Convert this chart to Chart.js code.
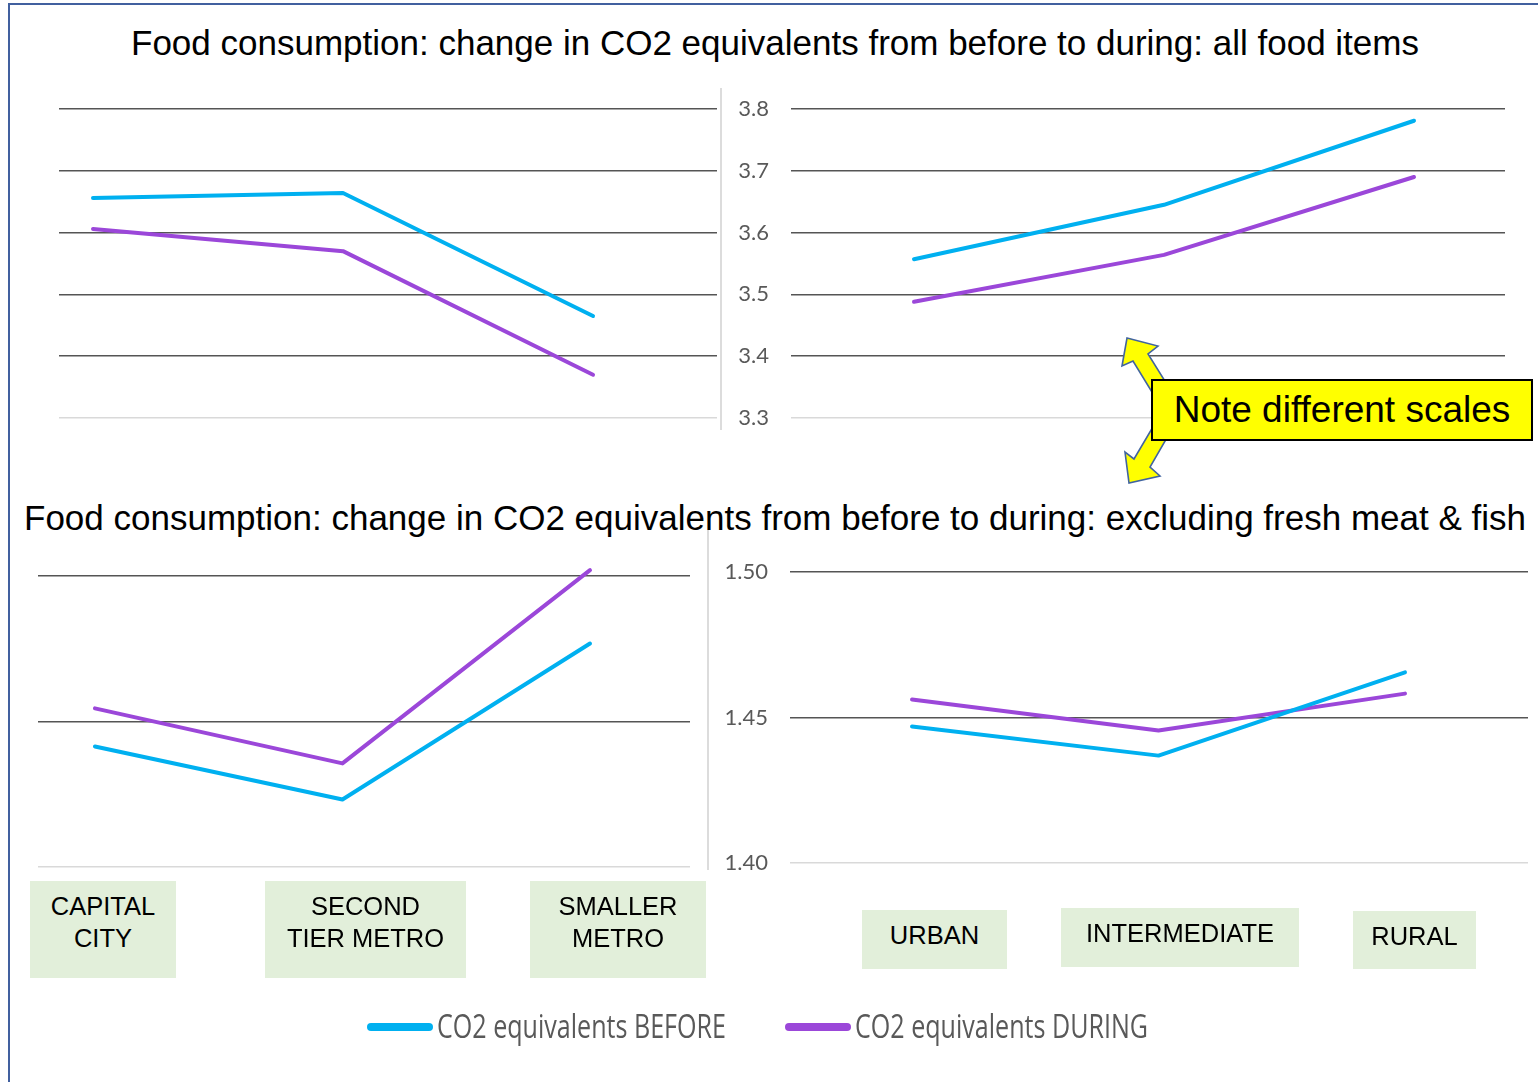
<!DOCTYPE html>
<html>
<head>
<meta charset="utf-8">
<script src="https://cdn.jsdelivr.net/npm/chart.js@4/dist/chart.umd.min.js"></script>
<style>
  html, body { margin: 0; padding: 0; background: #fff; }
  body { width: 1538px; height: 1082px; position: relative; overflow: hidden;
         font-family: "Liberation Sans", Arial, sans-serif; }
  .frame { position: absolute; left: 8px; top: 3px; right: -4px; bottom: -4px;
           border-top: 2px solid #41609f; border-left: 2px solid #41609f; }
  .title { position: absolute; left: 0; width: 1550px; text-align: center; font-size: 35px;
           line-height: 36px; color: #000; white-space: nowrap; }
  .panel { position: absolute; }
  .sep { position: absolute; width: 1.5px; background: #dcdcdc; }
  .cat { position: absolute; background: #e2efda; box-sizing: border-box; padding-top: 9px;
         text-align: center; font-size: 25.5px; line-height: 32px; color: #000; }
  .note { position: absolute; left: 1151px; top: 379px; width: 382px; height: 62px; box-sizing: border-box;
          border: 2px solid #000; background: #ffff00; display: flex; align-items: center;
          justify-content: center; font-size: 37px; color: #000; }
  .arrow { position: absolute; left: 0; top: 0; }
  .legend-item { position: absolute; top: 1005px; height: 42px; }
  .legend-item .swatch { position: absolute; left: 0; top: 18px; width: 66px; height: 8px; border-radius: 4px; }
  .legend-item .label { position: absolute; left: 70px; top: 0; font-family: "Open Sans", sans-serif;
          font-size: 33px; line-height: 42px; color: #595959; white-space: nowrap;
          transform: scaleX(0.76); transform-origin: 0 50%; }
</style>
</head>
<body>
<div class="frame"></div>

<div class="title" style="top:25px">Food consumption: change in CO2 equivalents from before to during: all food items</div>
<div class="title" style="top:500px">Food consumption: change in CO2 equivalents from before to during: excluding fresh meat &amp; fish</div>

<div class="sep" style="left:720px; top:88px; height:342px"></div>
<div class="sep" style="left:707px; top:530px; height:340px"></div>

<div class="panel" style="left:40px; top:90px"><canvas id="allCity" width="690" height="360"></canvas></div>
<div class="panel" style="left:721px; top:90px"><canvas id="allArea" width="800" height="360"></canvas></div>
<div class="panel" style="left:20px; top:550px"><canvas id="exCity" width="690" height="340"></canvas></div>
<div class="panel" style="left:708px; top:550px"><canvas id="exArea" width="830" height="340"></canvas></div>

<svg class="arrow" width="1538" height="1082">
  <polygon points="1127,338 1158,346 1148,354 1183,410 1150,467 1160,476 1129,483 1125,452 1134,459 1163,410 1133,361 1122,366"
           fill="#ffff00" stroke="#41649f" stroke-width="1.6" stroke-linejoin="miter"/>
</svg>
<div class="note">Note different scales</div>

<div id="cats"></div>
<div id="legend"></div>

<script>
// Category names
const cityTypes = ["CAPITAL\nCITY", "SECOND\nTIER METRO", "SMALLER\nMETRO"];
const areaTypes = ["URBAN", "INTERMEDIATE", "RURAL"];

// Series names and colours
const seriesNames = ["CO2 equivalents BEFORE", "CO2 equivalents DURING"];
const seriesColors = ["#00b0f0", "#9b47d9"];

// All food items, by city type
const allCityBefore = [3.656, 3.664, 3.465];
const allCityDuring = [3.606, 3.570, 3.370];
// All food items, by area type
const allAreaBefore = [3.557, 3.645, 3.781];
const allAreaDuring = [3.488, 3.564, 3.690];
// Excluding fresh meat & fish, by city type
const exCityBefore = [1.4414, 1.4232, 1.4768];
const exCityDuring = [1.4545, 1.4356, 1.5020];
// Excluding fresh meat & fish, by area type
const exAreaBefore = [1.4469, 1.4369, 1.4655];
const exAreaDuring = [1.4562, 1.4455, 1.4582];

// Value axis ticks
const allTicks = [3.3, 3.4, 3.5, 3.6, 3.7, 3.8];
const exTicks = [1.40, 1.45, 1.50];

function toPoints(values) {
  return values.map((v, i) => ({ x: i, y: v }));
}

function makePanel(id, opt) {
  const ticks = opt.ticks;
  const yMin = ticks[0], yMax = ticks[ticks.length - 1];
  new Chart(document.getElementById(id), {
    type: 'line',
    data: {
      datasets: [opt.before, opt.during].map((vals, k) => ({
        label: seriesNames[k],
        data: toPoints(vals),
        borderColor: seriesColors[k],
        backgroundColor: seriesColors[k],
        borderWidth: 4,
        borderCapStyle: 'round',
        borderJoinStyle: 'round',
        pointRadius: 0,
        tension: 0,
        clip: false
      }))
    },
    options: {
      responsive: false,
      animation: false,
      layout: { padding: opt.padding },
      plugins: { legend: { display: false }, tooltip: { enabled: false }, title: { display: false } },
      scales: {
        x: { type: 'linear', display: false, min: opt.xMin, max: opt.xMax },
        y: {
          min: yMin, max: yMax,
          afterBuildTicks: s => { s.ticks = ticks.map(v => ({ value: v })); },
          // fixed axis width; tick labels may overhang the plot edges
          afterFit: s => { s.width = opt.axisWidth; s.paddingTop = 0; s.paddingBottom = 0; },
          border: { display: false },
          grid: {
            drawTicks: false,
            lineWidth: 1.5,
            color: c => (c.tick && Math.abs(c.tick.value - yMin) < 1e-9) ? '#d9d9d9' : '#555555'
          },
          ticks: {
            display: opt.showTicks,
            padding: 22,
            color: '#595959',
            font: { family: 'Lato', size: 22 },
            callback: v => Number(v).toFixed(opt.decimals)
          }
        }
      }
    }
  });
}

makePanel('allCity', { before: allCityBefore, during: allCityDuring, ticks: allTicks, decimals: 1,
  showTicks: false, axisWidth: 19, padding: { left: 0, top: 19, right: 13, bottom: 32 },
  xMin: -0.136, xMax: 2.496 });
makePanel('allArea', { before: allAreaBefore, during: allAreaDuring, ticks: allTicks, decimals: 1,
  showTicks: true, axisWidth: 70, padding: { left: 0, top: 19, right: 16, bottom: 32 },
  xMin: -0.492, xMax: 2.364 });
makePanel('exCity', { before: exCityBefore, during: exCityDuring, ticks: exTicks, decimals: 2,
  showTicks: false, axisWidth: 18, padding: { left: 0, top: 26, right: 20, bottom: 23 },
  xMin: -0.230, xMax: 2.404 });
makePanel('exArea', { before: exAreaBefore, during: exAreaDuring, ticks: exTicks, decimals: 2,
  showTicks: true, axisWidth: 82, padding: { left: 0, top: 22, right: 10, bottom: 27 },
  xMin: -0.495, xMax: 2.499 });

// Category label boxes under the lower panels
const catBoxes = [
  { text: cityTypes[0], l: 30,   t: 881, w: 146, h: 97 },
  { text: cityTypes[1], l: 265,  t: 881, w: 201, h: 97 },
  { text: cityTypes[2], l: 530,  t: 881, w: 176, h: 97 },
  { text: areaTypes[0], l: 862,  t: 910, w: 145, h: 59 },
  { text: areaTypes[1], l: 1061, t: 908, w: 238, h: 59 },
  { text: areaTypes[2], l: 1353, t: 911, w: 123, h: 58 }
];
const catHost = document.getElementById('cats');
catBoxes.forEach(b => {
  const d = document.createElement('div');
  d.className = 'cat';
  d.style.left = b.l + 'px'; d.style.top = b.t + 'px';
  d.style.width = b.w + 'px'; d.style.height = b.h + 'px';
  d.innerHTML = b.text.split('\n').join('<br>');
  catHost.appendChild(d);
});

// Shared legend
const legendHost = document.getElementById('legend');
[367, 785].forEach((left, k) => {
  const item = document.createElement('div');
  item.className = 'legend-item';
  item.style.left = left + 'px';
  item.innerHTML = '<div class="swatch" style="background:' + seriesColors[k] + '"></div>' +
                   '<div class="label">' + seriesNames[k] + '</div>';
  legendHost.appendChild(item);
});
</script>
</body>
</html>
